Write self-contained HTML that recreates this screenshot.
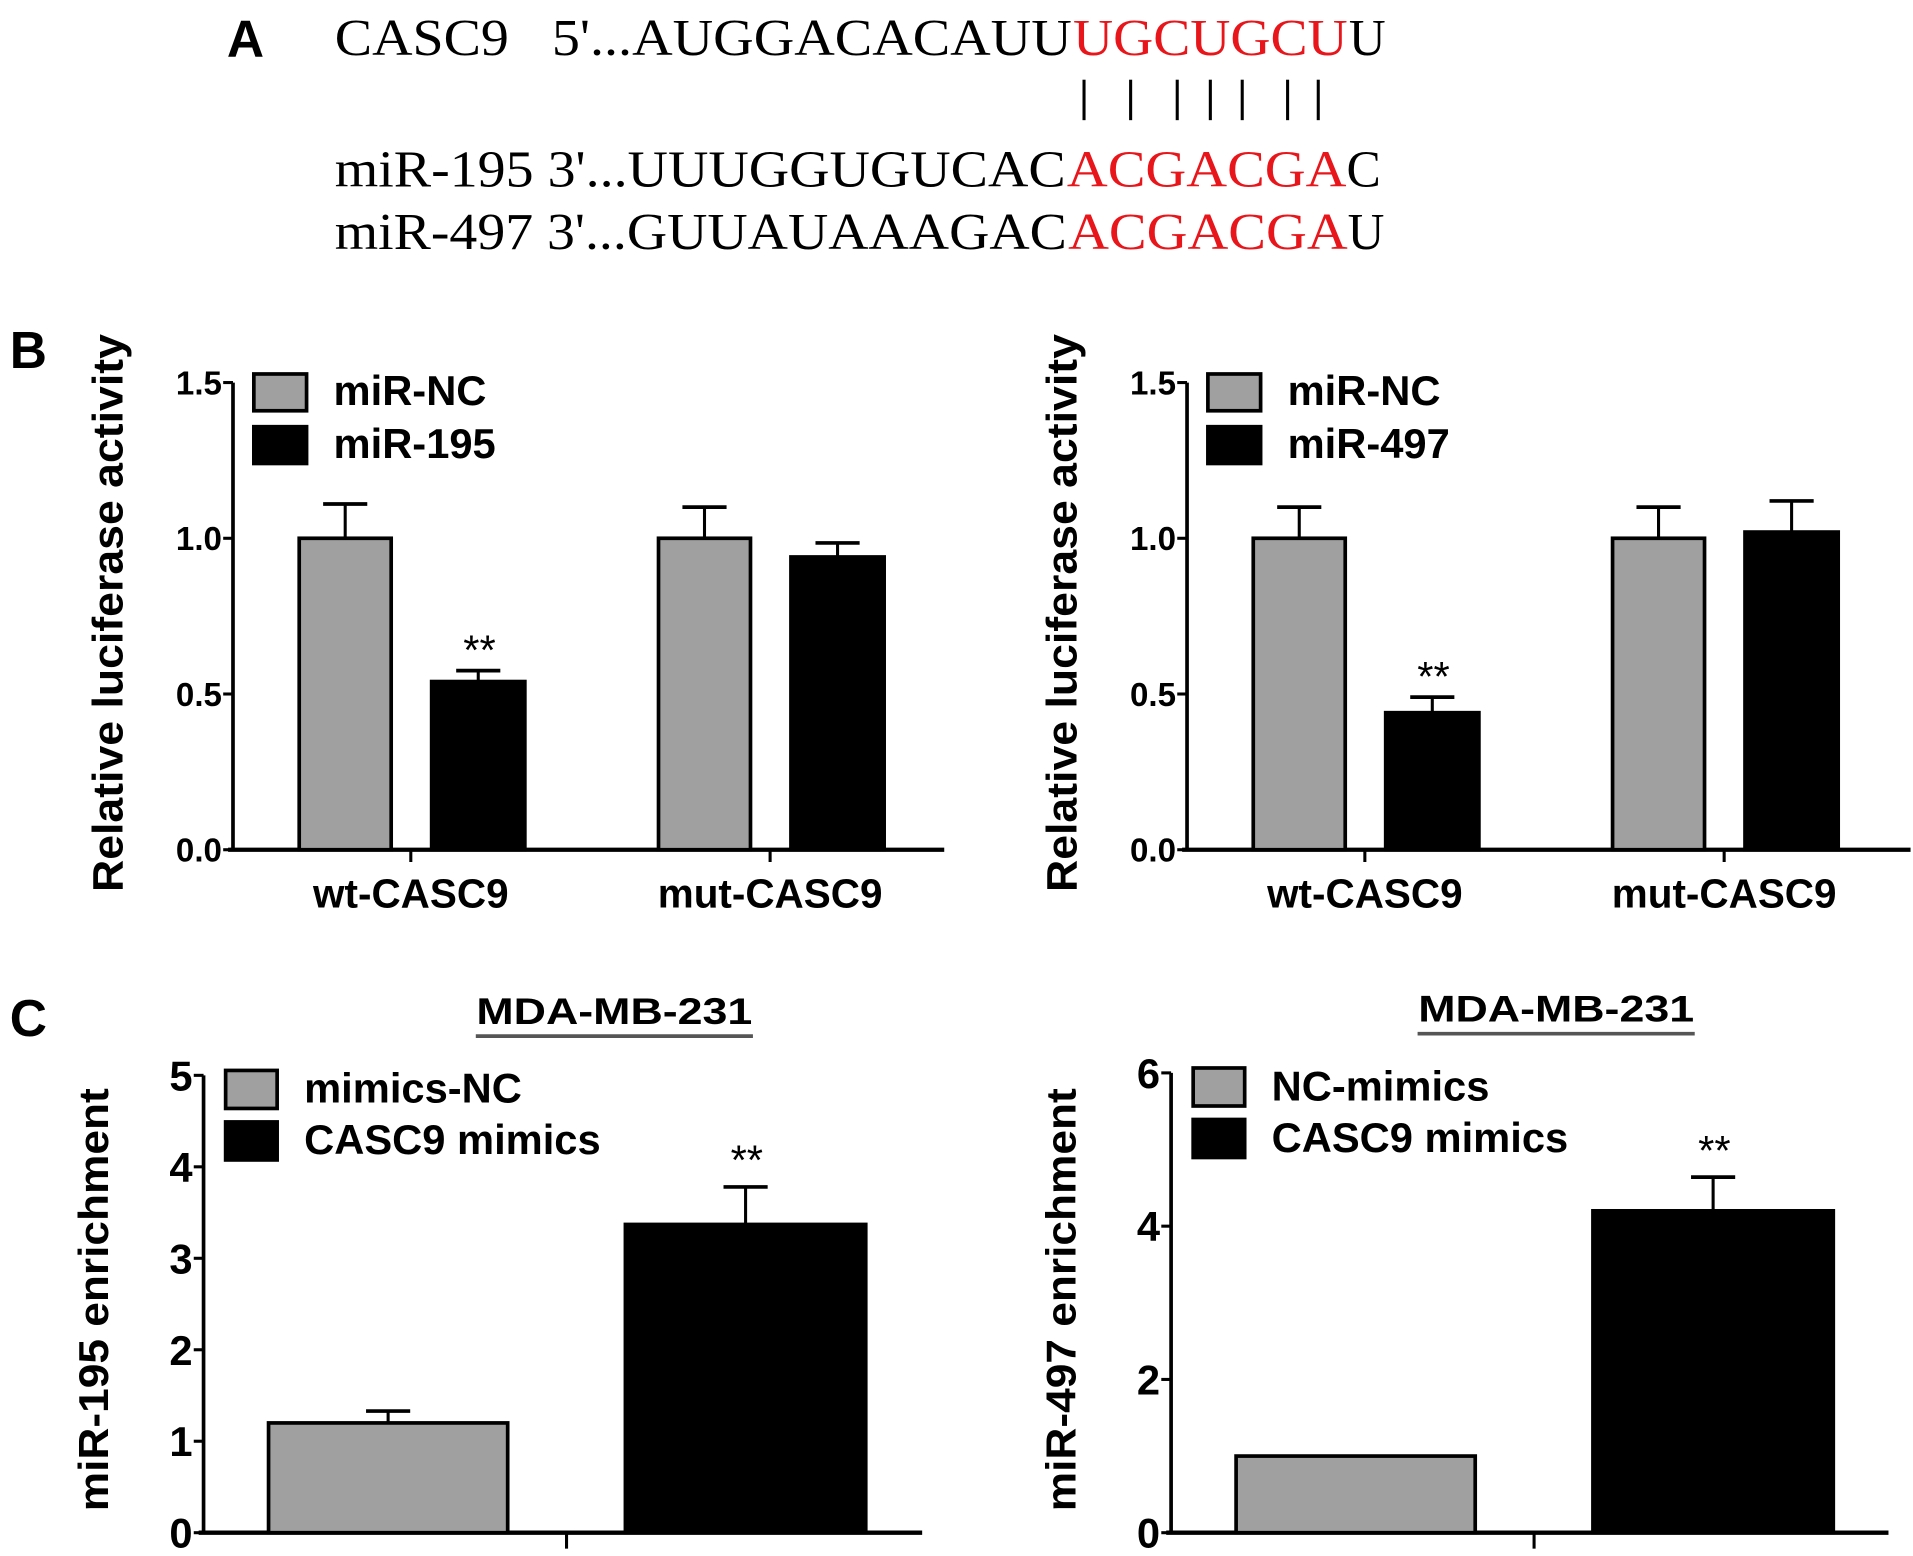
<!DOCTYPE html>
<html><head><meta charset="utf-8"><style>
html,body{margin:0;padding:0;background:#fff;}
svg{display:block;}
.seq{font-family:"Liberation Serif",serif;font-size:42px;}
.b{font-family:"Liberation Sans",sans-serif;font-weight:bold;}
</style></head><body>
<svg id="fig" width="1913" height="1556" viewBox="0 0 1560 1269" preserveAspectRatio="none" xmlns="http://www.w3.org/2000/svg">
<g>
<text class="b" x="185" y="46" font-size="42">A</text>
<text class="seq" x="273" y="45"><tspan textLength="142" lengthAdjust="spacingAndGlyphs">CASC9</tspan><tspan x="450" textLength="424" lengthAdjust="spacingAndGlyphs">5'...AUGGACACAUU</tspan><tspan fill="#e8161b" x="875" textLength="224" lengthAdjust="spacingAndGlyphs">UGCUGCU</tspan><tspan x="1100" textLength="30" lengthAdjust="spacingAndGlyphs">U</tspan></text>
<g stroke="#000" stroke-width="2.5">
<line x1="884" y1="65" x2="884" y2="98"/><line x1="922" y1="65" x2="922" y2="98"/><line x1="960" y1="65" x2="960" y2="98"/><line x1="987" y1="65" x2="987" y2="98"/><line x1="1013" y1="65" x2="1013" y2="98"/><line x1="1050" y1="65" x2="1050" y2="98"/><line x1="1075" y1="65" x2="1075" y2="98"/>
</g>
<text class="seq" x="273" y="152"><tspan textLength="596" lengthAdjust="spacingAndGlyphs">miR-195 3'...UUUGGUGUCAC</tspan><tspan fill="#e8161b" x="870" textLength="228" lengthAdjust="spacingAndGlyphs">ACGACGA</tspan><tspan x="1098" textLength="28" lengthAdjust="spacingAndGlyphs">C</tspan></text>
<text class="seq" x="273" y="203"><tspan textLength="597" lengthAdjust="spacingAndGlyphs">miR-497 3'...GUUAUAAAGAC</tspan><tspan fill="#e8161b" x="871" textLength="228" lengthAdjust="spacingAndGlyphs">ACGACGA</tspan><tspan x="1099" textLength="30" lengthAdjust="spacingAndGlyphs">U</tspan></text>
</g>
<text class="b" x="8" y="300" font-size="42">B</text>
<text class="b" x="8" y="845" font-size="42">C</text>
<g id="charts"></g>
</svg>
<script>
// Panel B left
const bCats = ["wt-CASC9","mut-CASC9"];
const bLeftNC = [1.0, 1.0];
const bLeftNCErr = [0.11, 0.10];
const bLeftMiR = [0.54, 0.94];
const bLeftMiRErr = [0.035, 0.045];
// Panel B right
const bRightNC = [1.0, 1.0];
const bRightNCErr = [0.10, 0.10];
const bRightMiR = [0.44, 1.02];
const bRightMiRErr = [0.05, 0.10];
const bTicks = ["0.0","0.5","1.0","1.5"];
// Panel C
const cLeftVals = [1.2, 3.37];
const cLeftErr = [0.13, 0.41];
const cLeftTicks = ["0","1","2","3","4","5"];
const cRightVals = [1.0, 4.2];
const cRightErr = [0, 0.44];
const cRightTicks = ["0","2","4","6"];

const NS="http://www.w3.org/2000/svg";
const root=document.getElementById('charts');
function mk(tag,attrs,parent,txt){const e=document.createElementNS(NS,tag);for(const k in attrs)e.setAttribute(k,attrs[k]);if(txt!==undefined)e.textContent=txt;(parent||root).appendChild(e);return e;}

function axis(g,x0,x1,yTop,y0,ticks,maxV,tickFs){
  const ys=v=>y0-(v/maxV)*(y0-yTop);
  const ax=mk('line',{x1:x0,y1:yTop,x2:x0,y2:y0,stroke:'#000','stroke-width':3},g);
  
  
  const xa=mk('line',{x1:x0-4,y1:y0,x2:x1,y2:y0,stroke:'#000','stroke-width':3.5},g);
  
  
  ticks.forEach(t=>{const v=parseFloat(t);const y=ys(v);
    mk('line',{x1:x0-8,y1:y,x2:x0,y2:y,stroke:'#000','stroke-width':2.5},g);
    const tl=mk('text',{x:x0-9,y:y+tickFs*0.36,'text-anchor':'end','font-size':tickFs,class:'b'},g,t);
    
    
  });
  return ys;
}
function bar(g,x,w,y0,ys,v,err,fill,name){
  if(err>0){mk('line',{x1:x+w/2,y1:ys(v),x2:x+w/2,y2:ys(v+err),stroke:'#000','stroke-width':2.5},g);
    mk('line',{x1:x+w/2-18,y1:ys(v+err),x2:x+w/2+18,y2:ys(v+err),stroke:'#000','stroke-width':3},g);}
  const r=mk('rect',{x:x,y:ys(v),width:w,height:y0-ys(v),fill:fill,stroke:'#000','stroke-width':3},g);
  
  
}
function legend(g,x,y1,y2,labels,fs,w,h){
  [['#a0a0a0',y1,labels[0]],['#000',y2,labels[1]]].forEach(([c,y,l])=>{
    const r=mk('rect',{x:x,y:y,width:w,height:h,fill:c,stroke:'#000','stroke-width':3},g);
    
    
    const t=mk('text',{x:x+w+22,y:y+h*0.85,'font-size':fs,class:'b'},g,l);
    
    
  });
}
function ytitle(g,x,y,txt,fs,len){
  const t=mk('text',{x:0,y:0,transform:`translate(${x},${y}) rotate(-90)`,'text-anchor':'middle','font-size':fs,class:'b',textLength:len,lengthAdjust:'spacingAndGlyphs'},g,txt);
  
  
}
function star(g,x,y){const s=mk('text',{x:x,y:y,'text-anchor':'middle','font-size':34,'font-family':'Liberation Sans, sans-serif'},g,'**');
  
  }

function panelB(ax0,nc,ncE,mi,miE,miLabel,name){
  const g=mk('g',{});
  
  
  const y0=693,yTop=312;
  const ys=axis(g,ax0,ax0+(name.includes('left')?580:590),yTop,y0,bTicks,1.5,27);
  bCats.forEach((c,i)=>{
    const cx=ax0+145+i*293;
    bar(g,cx-91,75,y0,ys,nc[i],ncE[i],'#a0a0a0','bar-mir-nc-'+c);
    bar(g,cx+17,76,y0,ys,mi[i],miE[i],'#000','bar-'+miLabel+'-'+c);
    mk('line',{x1:cx,y1:y0,x2:cx,y2:y0+10,stroke:'#000','stroke-width':2.5},g);
    const t=mk('text',{x:cx,y:740,'text-anchor':'middle','font-size':33,class:'b'},g,c);
    
    
  });
  star(g,ax0+201,ys(mi[0]+miE[0])-5);
  legend(g,ax0+17,305,348,['miR-NC',miLabel],34,43,30);
  ytitle(g,ax0-90,500,'Relative luciferase activity',35,455);
}
panelB(190,bLeftNC,bLeftNCErr,bLeftMiR,bLeftMiRErr,'miR-195','chart-b-left');
panelB(968,bRightNC,bRightNCErr,bRightMiR,bRightMiRErr,'miR-497','chart-b-right');

function panelC(ax0,x1,yTop,vals,errs,ticks,maxV,labels,yt,name,titleX){
  const g=mk('g',{});
  
  
  const y0=1250;
  const ys=axis(g,ax0,x1,yTop,y0,ticks,maxV,34);
  bar(g,ax0+53,195,y0,ys,vals[0],errs[0],'#a0a0a0','bar-nc-mimics');
  bar(g,ax0+344,196,y0,ys,vals[1],errs[1],'#000','bar-casc9-mimics');
  mk('line',{x1:ax0+296,y1:y0,x2:ax0+296,y2:y0+13,stroke:'#000','stroke-width':2.5},g);
  star(g,ax0+443,ys(vals[1]+errs[1])-10);
  legend(g,ax0+18,yTop-4,yTop+38,labels,34,42,31);
  ytitle(g,ax0-78,1060,yt,34,345);
  const t=mk('text',{x:titleX,y:yTop-42,'text-anchor':'middle','font-size':30,class:'b',textLength:225,lengthAdjust:'spacingAndGlyphs'},g,'MDA-MB-231');
  
  
  mk('line',{x1:titleX-113,y1:yTop-32,x2:titleX+113,y2:yTop-32,stroke:'#555','stroke-width':3},g);
}
panelC(166,752,877,cLeftVals,cLeftErr,cLeftTicks,5,['mimics-NC','CASC9 mimics'],'miR-195 enrichment','chart-c-left',501);
panelC(955,1540,875,cRightVals,cRightErr,cRightTicks,6,['NC-mimics','CASC9 mimics'],'miR-497 enrichment','chart-c-right',1269);
</script>
</body></html>
